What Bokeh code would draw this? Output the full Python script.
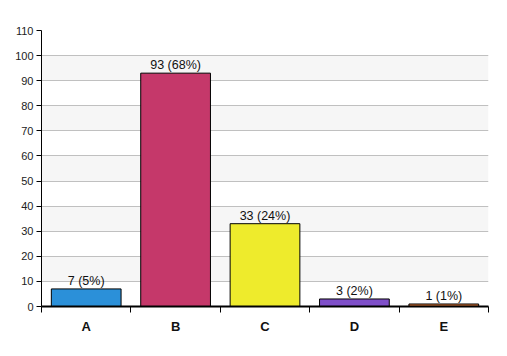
from bokeh.plotting import figure
from bokeh.models import ColumnDataSource, FixedTicker, Range1d, LabelSet
from bokeh.core.properties import value
from bokeh.embed import file_html
from bokeh.resources import INLINE

categories = ["A", "B", "C", "D", "E"]
counts = [7, 93, 33, 3, 1]
percents = [5, 68, 24, 2, 1]
colors = ["#2b90d9", "#c5386a", "#eeeb2c", "#7f4fc9", "#e07838"]

xpos = [i + 0.5 for i in range(len(categories))]
labels = [f"{c} ({p}%)" for c, p in zip(counts, percents)]
src = ColumnDataSource(dict(x=xpos, top=counts, color=colors, label=labels))

p = figure(width=499, height=348, output_backend="svg", toolbar_location=None,
           x_range=Range1d(0, len(categories)), y_range=Range1d(0, 110),
           min_border_left=41, min_border_right=11, min_border_top=30, min_border_bottom=42)
p.outline_line_color = None
p.background_fill_color = "white"

p.vbar(x="x", top="top", width=0.78, bottom=0, source=src, fill_color="color",
       line_color="black", line_width=1)

lbl = LabelSet(x="x", y="top", text="label", source=src, text_align="center",
               text_baseline="bottom", y_offset=1, text_font_size="12.5px",
               text_font=value("Liberation Sans"), text_color="#111111")
p.add_layout(lbl)

# y axis
p.yaxis.ticker = FixedTicker(ticks=list(range(0, 111, 10)))
p.yaxis.axis_line_color = "black"
p.yaxis.major_tick_line_color = "black"
p.yaxis.major_tick_in = 0
p.yaxis.major_tick_out = 5
p.yaxis.minor_tick_line_color = None
p.yaxis.major_label_text_font = "Liberation Sans"
p.yaxis.major_label_text_font_size = "11px"
p.yaxis.major_label_text_color = "#222222"
p.yaxis.major_label_standoff = 3

# x axis
p.xaxis.ticker = FixedTicker(ticks=xpos, minor_ticks=list(range(len(categories) + 1)))
p.xaxis.major_label_overrides = {x: c for x, c in zip(xpos, categories)}
p.xaxis.major_tick_line_color = None
p.xaxis.major_tick_in = 0
p.xaxis.major_tick_out = 0
p.xaxis.minor_tick_line_color = "black"
p.xaxis.minor_tick_in = 0
p.xaxis.minor_tick_out = 6
p.xaxis.axis_line_color = "black"
p.xaxis.axis_line_width = 2
p.xaxis.major_label_text_font = "Liberation Sans"
p.xaxis.major_label_text_font_size = "13px"
p.xaxis.major_label_text_font_style = "bold"
p.xaxis.major_label_text_color = "#111111"
p.xaxis.major_label_standoff = 6

p.xgrid.grid_line_color = None
p.ygrid.ticker = FixedTicker(ticks=list(range(0, 111, 10)))
p.ygrid.grid_line_color = "#c0c0c0"
p.ygrid.band_fill_color = "#f6f6f6"
p.ygrid.band_fill_alpha = 1.0

open("out.html", "w").write(file_html(p, INLINE))
